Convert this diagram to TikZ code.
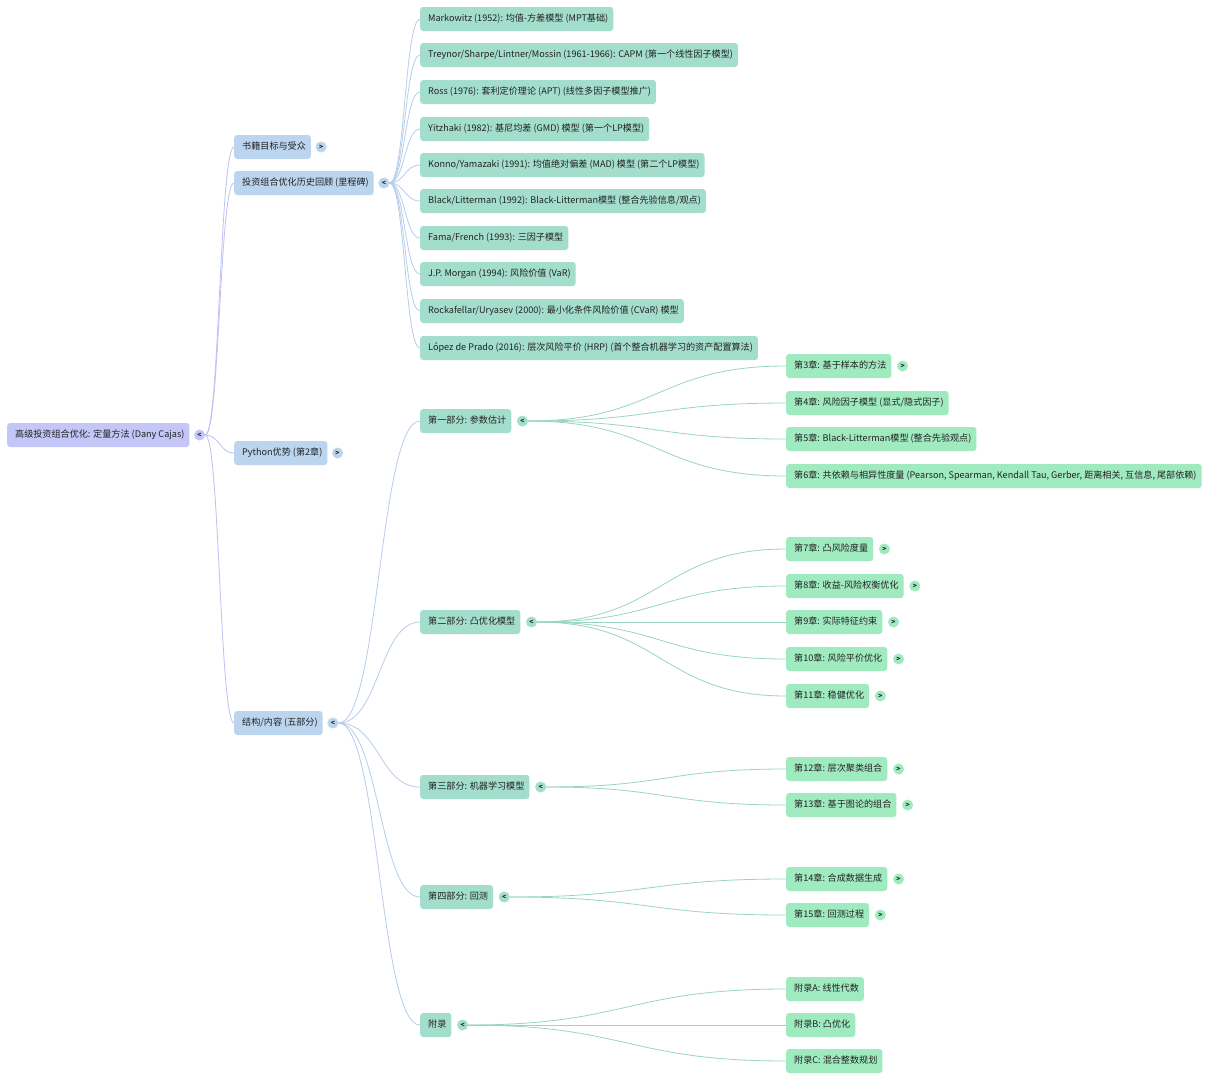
\documentclass[tikz,border=0pt]{standalone}
\usepackage{fontspec}
\setmainfont{Noto Sans CJK SC}
\usetikzlibrary{calc}
\definecolor{rootc}{HTML}{C3C6F6}
\definecolor{lonec}{HTML}{BCD5EF}
\definecolor{ltwoc}{HTML}{A3DDCB}
\definecolor{lthreec}{HTML}{A0EAC0}
\definecolor{rootl}{HTML}{BCC2F3}
\definecolor{lonel}{HTML}{B6CDEC}
\definecolor{ltwol}{HTML}{98D6C2}
\definecolor{txt}{HTML}{222222}
\tikzset{
  box/.style={anchor=west,rounded corners=3pt,inner xsep=8pt,inner ysep=0pt,minimum height=24pt,
    text=txt,font=\fontsize{9.1}{11}\selectfont,text height=7pt,text depth=2pt,
    execute at end node={\hspace{-3pt}}},
  rootbox/.style={box,fill=rootc},
  lonebox/.style={box,fill=lonec},
  ltwobox/.style={box,fill=ltwoc},
  lthreebox/.style={box,fill=lthreec},
  tog/.style={circle,inner sep=0pt,minimum size=11pt,font=\fontsize{6.8}{7}\selectfont\bfseries,text=txt},
  mm/.style={to path={let \p1=(\tikztostart), \p2=(\tikztotarget) in
     .. controls ({(\x1+\x2)/2},\y1) and ({(\x1+\x2)/2},\y2) .. (\tikztotarget)}},
  lk/.style={mm,line width=0.8pt},
}
\begin{document}
\begin{tikzpicture}[x=1pt,y=1pt]
\useasboundingbox[fill=white] (0,0) rectangle (1219,-1080);
\begin{scope}[yshift=-1pt]
% root
\node[rootbox] (r) at (7,-434) {高级投资组合优化: 定量方法 (Dany Cajas)};
\node[tog,fill=rootc] (tr) at ([xshift=10pt]r.east) {<};
% level 1
\node[lonebox] (a1) at (234,-146) {书籍目标与受众};
\node[lonebox] (a2) at (234,-182) {投资组合优化历史回顾 (里程碑)};
\node[lonebox] (a3) at (234,-452) {Python优势 (第2章)};
\node[lonebox] (a4) at (234,-722) {结构/内容 (五部分)};
\node[tog,fill=lonec] (ta1) at ([xshift=10pt]a1.east) {>};
\node[tog,fill=lonec] (ta2) at ([xshift=10pt]a2.east) {<};
\node[tog,fill=lonec] (ta3) at ([xshift=10pt]a3.east) {>};
\node[tog,fill=lonec] (ta4) at ([xshift=10pt]a4.east) {<};
% milestones
\node[ltwobox] (m1) at (420,-18) {Markowitz (1952): 均值-方差模型 (MPT基础)};
\node[ltwobox] (m2) at (420,-54) {Treynor/Sharpe/Lintner/Mossin (1961-1966): CAPM (第一个线性因子模型)};
\node[ltwobox] (m3) at (420,-91) {Ross (1976): 套利定价理论 (APT) (线性多因子模型推广)};
\node[ltwobox] (m4) at (420,-128) {Yitzhaki (1982): 基尼均差 (GMD) 模型 (第一个LP模型)};
\node[ltwobox] (m5) at (420,-164) {Konno/Yamazaki (1991): 均值绝对偏差 (MAD) 模型 (第二个LP模型)};
\node[ltwobox] (m6) at (420,-200) {Black/Litterman (1992): Black-Litterman模型 (整合先验信息/观点)};
\node[ltwobox] (m7) at (420,-237) {Fama/French (1993): 三因子模型};
\node[ltwobox] (m8) at (420,-273) {J.P. Morgan (1994): 风险价值 (VaR)};
\node[ltwobox] (m9) at (420,-310) {Rockafellar/Uryasev (2000): 最小化条件风险价值 (CVaR) 模型};
\node[ltwobox] (m10) at (420,-347) {López de Prado (2016): 层次风险平价 (HRP) (首个整合机器学习的资产配置算法)};
% parts
\node[ltwobox] (p1) at (420,-420) {第一部分: 参数估计};
\node[ltwobox] (p2) at (420,-621) {第二部分: 凸优化模型};
\node[ltwobox] (p3) at (420,-786) {第三部分: 机器学习模型};
\node[ltwobox] (p4) at (420,-896) {第四部分: 回测};
\node[ltwobox] (p5) at (420,-1024) {附录};
\foreach \i in {1,...,5} {\node[tog,fill=ltwoc] (tp\i) at ([xshift=11pt]p\i.east) {<};}
% chapters
\node[lthreebox] (c3) at (786,-365) {第3章: 基于样本的方法};
\node[lthreebox] (c4) at (786,-402) {第4章: 风险因子模型 (显式/隐式因子)};
\node[lthreebox] (c5) at (786,-438) {第5章: Black-Litterman模型 (整合先验观点)};
\node[lthreebox] (c6) at (786,-475) {第6章: 共依赖与相异性度量 (Pearson, Spearman, Kendall Tau, Gerber, 距离相关, 互信息, 尾部依赖)};
\node[lthreebox] (c7) at (786,-548) {第7章: 凸风险度量};
\node[lthreebox] (c8) at (786,-585) {第8章: 收益-风险权衡优化};
\node[lthreebox] (c9) at (786,-621) {第9章: 实际特征约束};
\node[lthreebox] (c10) at (786,-658) {第10章: 风险平价优化};
\node[lthreebox] (c11) at (786,-695) {第11章: 稳健优化};
\node[lthreebox] (c12) at (786,-768) {第12章: 层次聚类组合};
\node[lthreebox] (c13) at (786,-804) {第13章: 基于图论的组合};
\node[lthreebox] (c14) at (786,-878) {第14章: 合成数据生成};
\node[lthreebox] (c15) at (786,-914) {第15章: 回测过程};
\node[lthreebox] (xa) at (786,-988) {附录A: 线性代数};
\node[lthreebox] (xb) at (786,-1024) {附录B: 凸优化};
\node[lthreebox] (xc) at (786,-1060) {附录C: 混合整数规划};
\foreach \c in {c3,c7,c8,c9,c10,c11,c12,c13,c14,c15} {\node[tog,fill=lthreec] (t\c) at ([xshift=11pt]\c.east) {>};}
% links
\foreach \nd in {a1,a2,a3,a4} {\draw[lk,rootl] (tr.east) to (\nd.west);}
\foreach \nd in {m1,m2,m3,m4,m5,m6,m7,m8,m9,m10} {\draw[lk,lonel] (ta2.east) to (\nd.west);}
\foreach \nd in {p1,p2,p3,p4,p5} {\draw[lk,lonel] (ta4.east) to (\nd.west);}
\foreach \nd in {c3,c4,c5,c6} {\draw[lk,ltwol] (tp1.east) to (\nd.west);}
\foreach \nd in {c7,c8,c9,c10,c11} {\draw[lk,ltwol] (tp2.east) to (\nd.west);}
\foreach \nd in {c12,c13} {\draw[lk,ltwol] (tp3.east) to (\nd.west);}
\foreach \nd in {c14,c15} {\draw[lk,ltwol] (tp4.east) to (\nd.west);}
\foreach \nd in {xa,xb,xc} {\draw[lk,ltwol] (tp5.east) to (\nd.west);}
\end{scope}
\end{tikzpicture}
\end{document}
